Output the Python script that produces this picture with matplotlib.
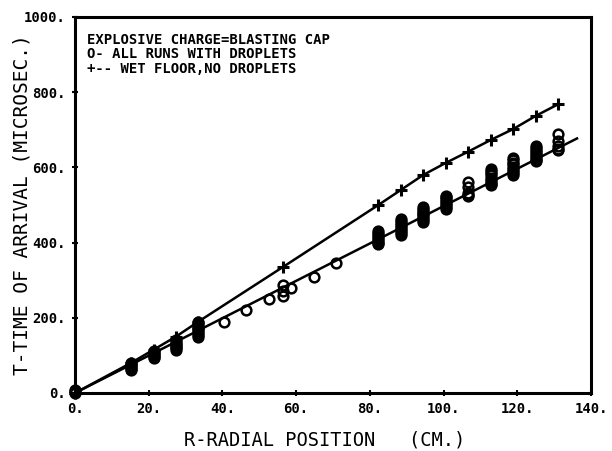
import matplotlib
matplotlib.use("Agg")
import matplotlib.pyplot as plt

# ---- data ----
# open circles: all runs with droplets
circle_x = [0, 0, 0,
            15.2, 15.2, 15.2, 15.2, 15.2, 15.2,
            21.3, 21.3, 21.3, 21.3, 21.3, 21.3,
            27.4, 27.4, 27.4, 27.4, 27.4, 27.4, 27.4,
            33.5, 33.5, 33.5, 33.5, 33.5, 33.5, 33.5, 33.5, 33.5,
            40.5, 46.5, 52.7,
            56.4, 56.4, 56.4, 58.6,
            64.8, 70.8,
            82.3, 82.3, 82.3, 82.3, 82.3, 82.3, 82.3, 82.3,
            88.4, 88.4, 88.4, 88.4, 88.4, 88.4, 88.4, 88.4, 88.4,
            94.5, 94.5, 94.5, 94.5, 94.5, 94.5, 94.5, 94.5, 94.5,
            100.6, 100.6, 100.6, 100.6, 100.6, 100.6, 100.6, 100.6,
            106.7, 106.7, 106.7, 106.7, 106.7,
            112.8, 112.8, 112.8, 112.8, 112.8, 112.8, 112.8, 112.8, 112.8,
            118.9, 118.9, 118.9, 118.9, 118.9, 118.9, 118.9, 118.9, 118.9,
            125.0, 125.0, 125.0, 125.0, 125.0, 125.0, 125.0, 125.0, 125.0,
            131.1, 131.1, 131.1, 131.1, 131.1]
circle_y = [0, 4, 9,
            61, 65, 69, 73, 77, 80,
            93, 97, 101, 105, 109, 112,
            115, 119, 123, 127, 131, 136, 141,
            149, 154, 159, 164, 169, 174, 179, 184, 189,
            190, 220, 250,
            258, 272, 288, 280,
            308, 346,
            395, 400, 405, 410, 415, 420, 425, 430,
            421, 426, 431, 437, 442, 447, 452, 458, 464,
            455, 460, 465, 470, 475, 480, 485, 490, 494,
            490, 495, 500, 505, 510, 515, 520, 525,
            523, 527, 532, 547, 562,
            552, 557, 562, 567, 573, 579, 584, 590, 595,
            581, 586, 591, 597, 602, 608, 613, 619, 624,
            616, 621, 626, 631, 636, 641, 646, 651, 656,
            645, 650, 657, 671, 688]

# fitted line through droplet runs
fit_x = [0, 136.2]
fit_y = [0, 677]

# plus markers: wet floor, no droplets
plus_x = [0, 15.2, 21.3, 27.4, 33.5, 56.4, 82.3, 88.4, 94.5, 100.6,
          106.7, 112.8, 118.9, 125.0, 131.1]
plus_y = [0, 80, 115, 150, 190, 335, 500, 540, 580, 612,
          642, 673, 702, 737, 768]

x_ticks = [0, 20, 40, 60, 80, 100, 120, 140]
x_tick_labels = ["0.", "20.", "40.", "60.", "80.", "100.", "120.", "140."]
y_ticks = [0, 200, 400, 600, 800, 1000]
y_tick_labels = ["0.", "200.", "400.", "600.", "800.", "1000."]

legend_lines = ["EXPLOSIVE CHARGE=BLASTING CAP",
                "O- ALL RUNS WITH DROPLETS",
                "+-- WET FLOOR,NO DROPLETS"]
x_label = "R-RADIAL POSITION   (CM.)"
y_label = "T-TIME OF ARRIVAL (MICROSEC.)"

# ---- figure ----
W, H = 612, 451
fig = plt.figure(figsize=(W / 100, H / 100), dpi=100)
ax = fig.add_axes([75 / W, 1 - 393 / H, (591 - 75) / W, (393 - 17) / H])

mono = "DejaVu Sans Mono"

ax.plot(fit_x, fit_y, color="black", lw=1.8, clip_on=False)
ax.plot(plus_x, plus_y, color="black", lw=1.8, clip_on=False)
ax.plot(plus_x, plus_y, linestyle="none", marker="+", ms=8, mew=2.2,
        color="black", clip_on=False)
ax.plot(circle_x, circle_y, linestyle="none", marker="o", ms=7,
        mfc="none", mec="black", mew=1.8, clip_on=False)

ax.set_xlim(0, 140)
ax.set_ylim(0, 1000)
ax.set_xticks(x_ticks)
ax.set_xticklabels(x_tick_labels)
ax.set_yticks(y_ticks)
ax.set_yticklabels(y_tick_labels)
for lab in ax.get_xticklabels() + ax.get_yticklabels():
    lab.set_fontfamily(mono)
    lab.set_fontweight("bold")
    lab.set_fontsize(10)
ax.tick_params(direction="inout", length=5, width=1.5, pad=4)
for sp in ax.spines.values():
    sp.set_linewidth(2.2)

for i, t in enumerate(legend_lines):
    fig.text(87 / W, 1 - (40 + 14.5 * i) / H, t, family=mono,
             fontweight="bold", fontsize=10, va="center", ha="left")

fig.text(325 / W, 1 - 440 / H, x_label, family=mono, fontsize=13.5,
         ha="center", va="center")
fig.text(22 / W, 1 - 205 / H, y_label, family=mono, fontsize=14,
         rotation=90, ha="center", va="center")

fig.savefig("out.png", dpi=100)
